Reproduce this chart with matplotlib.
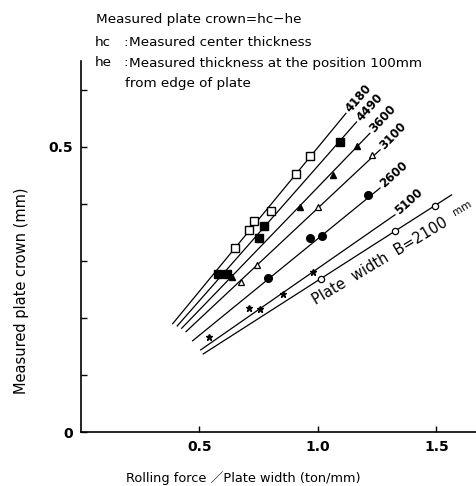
import numpy as np
import matplotlib
matplotlib.use("Agg")
import matplotlib.pyplot as plt
from matplotlib.ticker import MultipleLocator

plt.rcParams['font.family'] = ['DejaVu Sans', 'Noto Sans CJK JP']

# measured points (x: ton/mm, y: mm)
w4180_x = [0.65, 0.71, 0.731, 0.80, 0.906, 0.966]
w4180_y = [0.322, 0.354, 0.370, 0.388, 0.452, 0.484]
w4490_x = [0.579, 0.617, 0.751, 0.773, 1.093]
w4490_y = [0.277, 0.277, 0.340, 0.362, 0.509]
w3600_x = [0.636, 0.924, 1.062, 1.166]
w3600_y = [0.272, 0.395, 0.451, 0.502]
w3100_x = [0.674, 0.744, 0.999, 1.227]
w3100_y = [0.264, 0.293, 0.395, 0.486]
w2600_x = [0.789, 0.968, 1.017, 1.21]
w2600_y = [0.270, 0.341, 0.343, 0.415]
w5100_x = [0.54, 0.707, 0.755, 0.854, 0.98]
w5100_y = [0.167, 0.218, 0.215, 0.242, 0.281]
w2100_x = [1.013, 1.325, 1.494]
w2100_y = [0.268, 0.353, 0.396]

# straight lines drawn through each group (start / end points)
widths = ['4180', '4490', '3600', '3100', '2600', '5100', '2100']
line_x0 = [0.387, 0.406, 0.425, 0.443, 0.471, 0.505, 0.516]
line_y0 = [0.190, 0.186, 0.182, 0.176, 0.160, 0.144, 0.137]
line_x1 = [1.118, 1.163, 1.219, 1.262, 1.262, 1.325, 1.564]
line_y1 = [0.559, 0.544, 0.524, 0.495, 0.428, 0.381, 0.416]

W, H = 476, 486
fig = plt.figure(figsize=(W / 100, H / 100), dpi=100)
ax = fig.add_axes([81 / W, 54 / H, 395 / W, 370.5 / H])
ax.set_xlim(0, 1.667)
ax.set_ylim(0, 0.65)

for x0, y0, x1, y1 in zip(line_x0, line_y0, line_x1, line_y1):
    ax.plot([x0, x1], [y0, y1], color='black', lw=0.9, zorder=2)

k = dict(color='black', ls='none', zorder=3)
ax.plot(w4180_x, w4180_y, marker='s', ms=5.5, mfc='white', mew=1.0, **k)
ax.plot(w4490_x, w4490_y, marker='s', ms=5.5, mfc='black', **k)
ax.plot(w3600_x, w3600_y, marker='^', ms=5, mfc='black', **k)
ax.plot(w3100_x, w3100_y, marker='^', ms=5, mfc='white', mew=0.9, **k)
ax.plot(w2600_x, w2600_y, marker='o', ms=5.5, mfc='black', **k)
ax.plot(w5100_x, w5100_y, marker='*', ms=5, mfc='black', **k)
ax.plot(w2100_x, w2100_y, marker='o', ms=4.5, mfc='white', mew=0.9, **k)

# width labels at the upper ends of the lines
rot = [49, 48, 47, 46, 42, 42]
for i, lab in enumerate(widths[:-1]):
    ax.text(line_x1[i] + 0.008, line_y1[i] + 0.004, lab, rotation=rot[i],
            rotation_mode='anchor', ha='left', va='center',
            fontsize=8.5, fontweight='bold')
ax.text(0.99, 0.223, 'Plate  width  B=2100', rotation=31,
        rotation_mode='anchor', ha='left', va='baseline',
        fontsize=10.5)
ax.text(1.578, 0.379, 'mm', rotation=31, rotation_mode='anchor',
        ha='left', va='baseline', fontsize=7.5)

# axes styling
for s in ['top', 'right']:
    ax.spines[s].set_visible(False)
for s in ['left', 'bottom']:
    ax.spines[s].set_linewidth(1.2)
ax.set_xticks([0.5, 1.0, 1.5])
ax.set_xticklabels(['0.5', '1.0', '1.5'])
ax.set_yticks([0, 0.5])
ax.set_yticklabels(['0', '0.5'])
ax.yaxis.set_minor_locator(MultipleLocator(0.1))
ax.tick_params(axis='both', which='both', direction='in', length=4,
               width=1.0, labelsize=10)
ax.tick_params(axis='x', pad=6)
ax.tick_params(axis='y', pad=6)
for t in ax.get_xticklabels() + ax.get_yticklabels():
    t.set_fontweight('bold')

fig.text(243 / W, 1 - 478 / H, 'Rolling force ／Plate width (ton/mm)',
         ha='center', va='center', fontsize=9.3)
fig.text(22 / W, 1 - 291 / H, 'Measured plate crown (mm)', rotation=90,
         ha='center', va='center', fontsize=10.5)

# legend note at the top
fs = 9.7
fig.text(96 / W, 1 - 20 / H, 'Measured plate crown=hc−he',
         ha='left', va='center', fontsize=fs)
fig.text(95 / W, 1 - 42 / H, 'hc', ha='left', va='center', fontsize=fs)
fig.text(123 / W, 1 - 42 / H, ':', ha='left', va='center', fontsize=fs)
fig.text(129 / W, 1 - 42 / H, 'Measured center thickness',
         ha='left', va='center', fontsize=fs)
fig.text(95 / W, 1 - 63 / H, 'he', ha='left', va='center', fontsize=fs)
fig.text(123 / W, 1 - 63 / H, ':', ha='left', va='center', fontsize=fs)
fig.text(129 / W, 1 - 63 / H, 'Measured thickness at the position 100mm',
         ha='left', va='center', fontsize=fs)
fig.text(125 / W, 1 - 84 / H, 'from edge of plate',
         ha='left', va='center', fontsize=fs)

fig.savefig('out.png', dpi=100)
